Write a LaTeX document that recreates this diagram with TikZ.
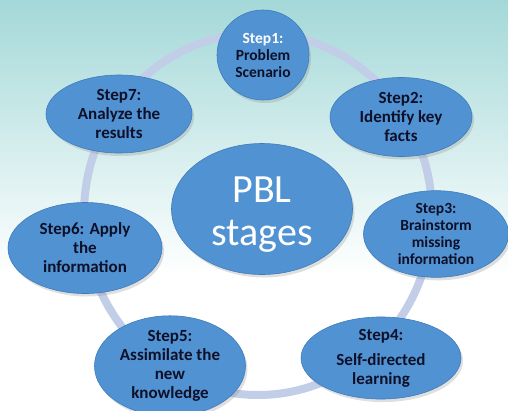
\documentclass[tikz,border=0pt]{standalone}
\usepackage{fontspec}
\setmainfont{Carlito}
\usetikzlibrary{shapes.geometric,shadows}
\definecolor{bgtop}{HTML}{A4D8D8}
\definecolor{ringc}{HTML}{C2CEE8}
\definecolor{nodefill}{HTML}{5192D3}
\definecolor{nodeedge}{HTML}{3F7BBB}
\definecolor{txtdark}{HTML}{0E1028}
\tikzset{
  stepnode/.style={ellipse, inner sep=0pt, fill=nodefill, draw=nodeedge, line width=0.6pt,
    align=center, text=txtdark, font=\fontsize{17}{19}\selectfont\bfseries,
    drop shadow={opacity=0.25, shadow xshift=2pt, shadow yshift=-3pt}},
  smallstep/.style={stepnode, font=\fontsize{15.5}{17}\selectfont\bfseries},
  ringline/.style={draw=ringc, line width=8pt},
}
\begin{document}
\begin{tikzpicture}[x=1pt,y=-1pt]
\useasboundingbox (0,0) rectangle (508,410);
\clip (0,0) rectangle (508,410);
\shade[top color=bgtop, bottom color=white] (0,0) rectangle (508,275);
\fill[white] (0,275) rectangle (508,410);
\draw[ringline] (258,214) circle[x radius=174pt, y radius=181pt];
\node[stepnode, minimum width=181pt, minimum height=131pt] (pbl) at (262,209) {};
\node[align=center, text=white, font=\fontsize{40}{43}\selectfont, inner sep=0pt]
  (pbltext) at ([yshift=-6pt]pbl.center) {PBL\\stages};
\node[smallstep, minimum width=92pt, minimum height=90pt] (s1) at (263,55)
  {\textcolor{white}{Step1:}\\Problem\\Scenario};
\node[stepnode, minimum width=142pt, minimum height=79pt] (s2) at (401,117)
  {Step2:\\Identify key\\facts};
\node[smallstep, minimum width=145pt, minimum height=84pt] (s3) at (436,234)
  {Step3:\\Brainstorm\\missing\\information};
\node[stepnode, minimum width=160pt, minimum height=80pt] (s4) at (381,358)
  {Step4:\\[6pt]Self-directed\\learning};
\node[stepnode, minimum width=151pt, minimum height=90pt] (s5) at (170,366)
  {Step5:\\Assimilate the\\new\\knowledge};
\node[stepnode, minimum width=154pt, minimum height=91pt] (s6) at (85,248)
  {Step6: Apply\\the\\information};
\node[stepnode, minimum width=146pt, minimum height=78pt] (s7) at (119,114)
  {Step7:\\Analyze the\\results};
\end{tikzpicture}
\end{document}
